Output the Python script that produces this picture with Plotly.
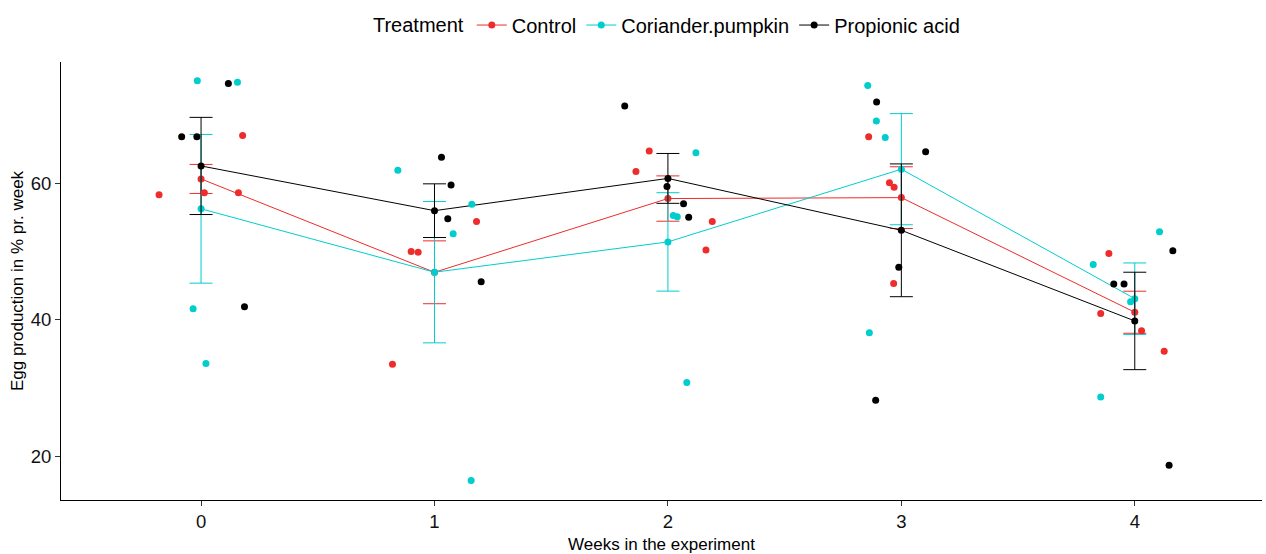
import numpy as np
import plotly.graph_objects as go

# Weekly egg production (% per week), four replicates per treatment and week
weeks = [0, 1, 2, 3, 4]
treatments = ["Control", "Coriander.pumpkin", "Propionic acid"]

control = [
    [67.0, 58.3, 58.6, 58.6],
    [54.4, 50.0, 49.9, 33.5],
    [64.7, 61.7, 54.4, 50.2],
    [66.8, 60.05, 59.4, 45.3],
    [49.7, 40.9, 38.4, 35.4],
]
coriander_pumpkin = [
    [75.0, 74.8, 41.6, 33.6],
    [61.9, 56.9, 52.6, 16.45],
    [64.45, 55.25, 55.1, 30.8],
    [74.3, 69.1, 66.7, 38.1],
    [52.9, 48.1, 42.65, 28.7],
]
propionic_acid = [
    [74.6, 66.8, 66.8, 41.9],
    [63.8, 59.75, 54.8, 45.55],
    [71.3, 59.5, 57.0, 55.0],
    [71.9, 64.6, 47.7, 28.2],
    [50.1, 45.25, 45.25, 18.7],
]

# Horizontal jitter applied to the replicate points
control_jitter = [
    [0.178, -0.18, 0.014, 0.16],
    [0.18, -0.10, -0.07, -0.18],
    [-0.08, -0.137, 0.19, 0.163],
    [-0.14, -0.051, -0.031, -0.033],
    [-0.111, -0.146, 0.029, 0.126],
]
coriander_jitter = [
    [-0.016, 0.156, -0.034, 0.021],
    [-0.157, 0.16, 0.08, 0.157],
    [0.12, 0.023, 0.04, 0.081],
    [-0.144, -0.107, -0.069, -0.137],
    [0.106, -0.178, -0.018, -0.146],
]
propionic_jitter = [
    [0.117, -0.083, -0.018, 0.186],
    [0.03, 0.071, 0.057, 0.2],
    [-0.185, -0.004, 0.067, 0.089],
    [-0.106, 0.104, -0.011, -0.11],
    [0.163, -0.09, -0.046, 0.147],
]

data = [control, coriander_pumpkin, propionic_acid]
jitters = [control_jitter, coriander_jitter, propionic_jitter]
colors = ["#EE2C2C", "#00CDCD", "#000000"]

fig = go.Figure()

# Mean +/- standard error per week, joined by lines
for name, vals, col in zip(treatments, data, colors):
    arr = np.array(vals)
    means = arr.mean(axis=1)
    se = arr.std(axis=1, ddof=1) / np.sqrt(arr.shape[1])
    fig.add_trace(go.Scatter(
        x=weeks, y=means, mode="lines+markers", name=name,
        line=dict(color=col, width=1),
        marker=dict(color=col, size=7),
        error_y=dict(type="data", array=se, visible=True,
                     color=col, thickness=1, width=11.5),
        legendgroup=name, showlegend=True,
    ))

# Individual replicate points
for name, vals, jit, col in zip(treatments, data, jitters, colors):
    xs, ys = [], []
    for w, wv, wj in zip(weeks, vals, jit):
        for v, j in zip(wv, wj):
            xs.append(w + j)
            ys.append(v)
    fig.add_trace(go.Scatter(
        x=xs, y=ys, mode="markers", name=name,
        marker=dict(color=col, size=7),
        legendgroup=name, showlegend=False, hoverinfo="x+y",
    ))

font = "Liberation Sans, Arial, sans-serif"
fig.update_layout(
    width=1266, height=554,
    margin=dict(l=61, r=4, t=62, b=51),
    plot_bgcolor="white", paper_bgcolor="white",
    font=dict(family=font, color="#000000"),
    legend=dict(
        orientation="h", xref="container", x=0.5276, xanchor="center",
        yref="container", y=0.99, yanchor="top",
        title=dict(text="Treatment", font=dict(size=20)),
        font=dict(size=20), itemwidth=30,
    ),
    xaxis=dict(
        range=[-0.6, 4.545], tickvals=weeks, ticktext=[str(w) for w in weeks],
        showgrid=False, zeroline=False, showline=True, linecolor="#000000",
        linewidth=1, ticks="outside", ticklen=5, tickcolor="#333333",
        tickfont=dict(size=18.5, color="#111111"),
        title=dict(text="Weeks in the experiment", font=dict(size=17), standoff=6),
    ),
    yaxis=dict(
        range=[13.6, 77.75], tickvals=[20, 40, 60],
        showgrid=False, zeroline=False, showline=True, linecolor="#000000",
        linewidth=1, ticks="outside", ticklen=5, tickcolor="#333333",
        tickfont=dict(size=18.5, color="#111111"),
        title=dict(text="Egg production in % pr. week", font=dict(size=17), standoff=2),
    ),
)

fig.write_html("out.html")
